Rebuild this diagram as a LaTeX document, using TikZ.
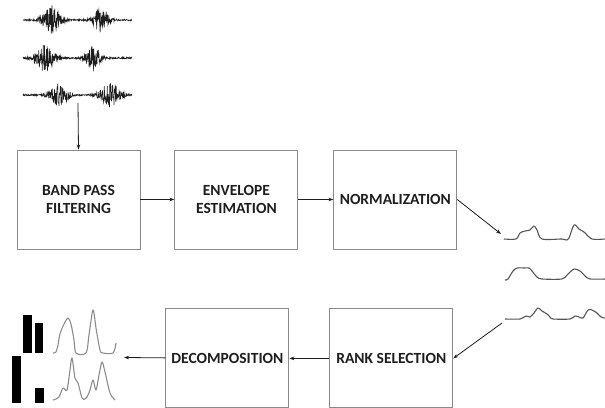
\documentclass[tikz,border=0pt]{standalone}
\usepackage{fontspec}
\setmainfont{Carlito}
\usepackage{xcolor}
\usepackage{tikz}
\usetikzlibrary{arrows.meta, positioning}
\definecolor{boxgray}{HTML}{8A8A8A}
\definecolor{inkgray}{HTML}{1E1E1E}
\definecolor{envgray}{HTML}{555555}
\definecolor{compgray}{HTML}{8C8C8C}
\tikzset{
  box/.style={rectangle, draw=boxgray, line width=0.9pt, minimum height=99pt, minimum width=123pt,
    align=center, text=inkgray, font=\fontsize{15.5}{18.5}\selectfont\bfseries},
  arrow/.style={-{Stealth[length=5pt,width=3.5pt]}, draw=inkgray, line width=0.8pt},
  envline/.style={envgray, line width=1.1pt, line join=round},
  compline/.style={compgray, line width=1.1pt, line join=round},
  bar/.style={fill=black, draw=none},
}

\begin{document}
\begin{tikzpicture}[x=1pt, y=-1pt]
    \useasboundingbox (0,0) rectangle (605,407);

    % processing chain
    \node[box] (bpf) at (78.5,199.5) {BAND PASS\\FILTERING};
    \node[box, right=34pt of bpf] (env) {ENVELOPE\\ESTIMATION};
    \node[box, right=35pt of env] (norm) {NORMALIZATION};
    \node[box, below=59pt of norm, xshift=-4pt] (rank) {RANK SELECTION};
    \node[box, left=40pt of rank] (decomp) {DECOMPOSITION};

    % raw recordings
    \pgfmathsetseed{4242}
    \foreach \yb/\ca/\wa/\aa/\cb/\wb/\ab in {20/52/9/14/101/8/12, 58/45/10/13/93/7/13, 95/59/9/11/110/10/12}{
      \draw[inkgray, line width=0.6pt] plot[domain=23:132, samples=340]
        (\x, {\yb + (0.8 + \aa*exp(-((\x-\ca)/\wa)^2) + \ab*exp(-((\x-\cb)/\wb)^2))*rand});
    }
    \coordinate (raw) at (78,103);

    % normalized envelopes
    \draw[envline] plot[smooth, tension=0.5] coordinates {(504,239) (516,239) (520,233) (525,231)
      (530,230) (534,226) (537,230) (542,239) (562,239) (566,240) (569,238) (574,225) (579,229)
      (584,232) (592,239) (605,239)};
    \draw[envline] plot[smooth, tension=0.5] coordinates {(505,280) (508,279) (513,271) (517,268)
      (524,268) (529,268) (532,271) (537,277) (542,279) (562,279) (567,275) (574,269) (580,271)
      (585,276) (590,279) (605,279)};
    \draw[envline] plot[smooth, tension=0.5] coordinates {(505,319) (520,319) (526,316) (530,317)
      (534,313) (538,308) (542,311) (547,314) (550,317) (553,319) (570,319) (575,316) (579,317)
      (583,318) (588,310) (592,310) (597,313) (601,317) (605,318)};
    \coordinate (envin) at (501,234);
    \coordinate (envout) at (502,323);

    % components and weights
    \fill[bar] (23,315) rectangle (32,353);
    \fill[bar] (35,323) rectangle (43,353);
    \fill[bar] (12,356) rectangle (21,403);
    \fill[bar] (35,388) rectangle (44,403);
    \draw[compline] plot[smooth, tension=0.5] coordinates {(53,353) (56,352) (58,345) (60,334)
      (64,324) (68,318) (71,324) (74,340) (76,353) (86,353) (89,335) (93,310) (96,328) (100,350)
      (103,353) (113,353) (116,343)};
    \draw[compline] plot[smooth, tension=0.5] coordinates {(53,400) (56,399) (59,397) (63,388)
      (67,390) (70,370) (72,358) (75,378) (78,383) (82,398) (85,399) (87,397) (90,390) (93,380)
      (96,390) (99,375) (102,362) (105,372) (110,393) (115,400)};
    \coordinate (result) at (124,357.5);

    % connectors
    \draw[arrow] (raw) -- (bpf.north);
    \draw[arrow] (bpf) -- (env);
    \draw[arrow] (env) -- (norm);
    \draw[arrow] (norm.east) -- (envin);
    \draw[arrow] (envout) -- (rank.east);
    \draw[arrow] (rank) -- (decomp);
    \draw[arrow] (decomp) -- (result);
  \end{tikzpicture}
\end{document}
